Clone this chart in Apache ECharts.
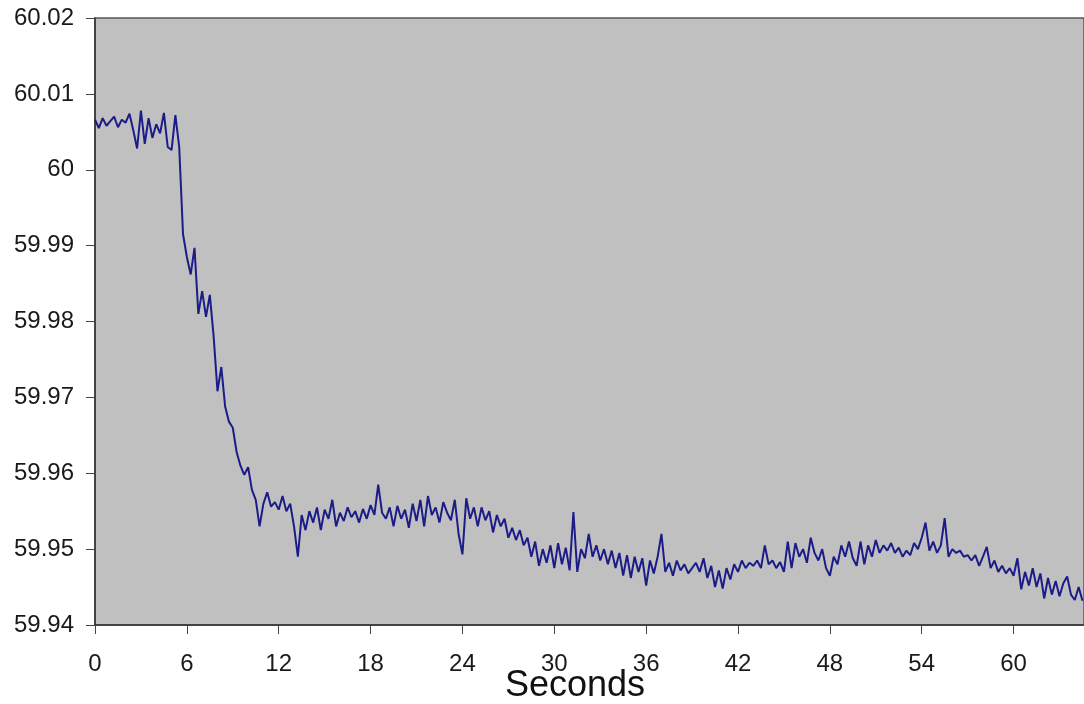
<!DOCTYPE html>
<html>
<head>
<meta charset="utf-8">
<script src="https://cdn.jsdelivr.net/npm/echarts@6/dist/echarts.min.js"></script>
<style>
  html, body { margin: 0; padding: 0; background: #fff; }
  #chart { width: 1084px; height: 704px; }
</style>
</head>
<body>
<div id="chart"></div>
<script>
// sampling period of the trace, seconds
const sampleStep = 0.25

// frequency readings (Hz), one row = 2 seconds
const frequency = [
  60.0066, 60.0055, 60.0068, 60.0058, 60.0064, 60.0070, 60.0056, 60.0066, // 0
  60.0062, 60.0074, 60.0052, 60.0028, 60.0078, 60.0034, 60.0068, 60.0042, // 2
  60.0060, 60.0048, 60.0075, 60.0030, 60.0026, 60.0072, 60.0030, 59.9915, // 4
  59.9885, 59.9862, 59.9897, 59.9810, 59.9840, 59.9806, 59.9835, 59.9780, // 6
  59.9708, 59.9740, 59.9688, 59.9668, 59.9660, 59.9628, 59.9610, 59.9598, // 8
  59.9608, 59.9578, 59.9565, 59.9530, 59.9560, 59.9575, 59.9556, 59.9562, // 10
  59.9552, 59.9570, 59.9550, 59.9560, 59.9530, 59.9490, 59.9545, 59.9525, // 12
  59.9550, 59.9535, 59.9555, 59.9525, 59.9552, 59.9540, 59.9565, 59.9530, // 14
  59.9548, 59.9537, 59.9555, 59.9542, 59.9550, 59.9535, 59.9553, 59.9540, // 16
  59.9558, 59.9545, 59.9585, 59.9548, 59.9540, 59.9555, 59.9530, 59.9557, // 18
  59.9540, 59.9552, 59.9528, 59.9560, 59.9537, 59.9565, 59.9530, 59.9570, // 20
  59.9545, 59.9555, 59.9535, 59.9562, 59.9548, 59.9538, 59.9565, 59.9520, // 22
  59.9493, 59.9567, 59.9540, 59.9555, 59.9530, 59.9555, 59.9538, 59.9550, // 24
  59.9522, 59.9545, 59.9530, 59.9540, 59.9515, 59.9528, 59.9512, 59.9525, // 26
  59.9505, 59.9515, 59.9490, 59.9510, 59.9478, 59.9500, 59.9482, 59.9505, // 28
  59.9475, 59.9508, 59.9480, 59.9502, 59.9472, 59.9549, 59.9470, 59.9500, // 30
  59.9488, 59.9520, 59.9490, 59.9505, 59.9485, 59.9500, 59.9480, 59.9498, // 32
  59.9475, 59.9495, 59.9465, 59.9492, 59.9462, 59.9490, 59.9470, 59.9488, // 34
  59.9452, 59.9485, 59.9468, 59.9490, 59.9520, 59.9470, 59.9482, 59.9465, // 36
  59.9485, 59.9472, 59.9480, 59.9468, 59.9475, 59.9482, 59.9470, 59.9488, // 38
  59.9462, 59.9478, 59.9450, 59.9472, 59.9448, 59.9475, 59.9460, 59.9480, // 40
  59.9470, 59.9485, 59.9475, 59.9482, 59.9478, 59.9485, 59.9475, 59.9505, // 42
  59.9480, 59.9485, 59.9475, 59.9483, 59.9470, 59.9510, 59.9475, 59.9508, // 44
  59.9490, 59.9500, 59.9482, 59.9515, 59.9495, 59.9485, 59.9500, 59.9475, // 46
  59.9465, 59.9490, 59.9480, 59.9505, 59.9490, 59.9510, 59.9488, 59.9478, // 48
  59.9510, 59.9480, 59.9505, 59.9490, 59.9512, 59.9495, 59.9505, 59.9498, // 50
  59.9508, 59.9495, 59.9502, 59.9490, 59.9498, 59.9492, 59.9508, 59.9500, // 52
  59.9515, 59.9535, 59.9498, 59.9510, 59.9495, 59.9505, 59.9541, 59.9490, // 54
  59.9500, 59.9495, 59.9498, 59.9490, 59.9492, 59.9485, 59.9492, 59.9478, // 56
  59.9490, 59.9503, 59.9475, 59.9485, 59.9470, 59.9478, 59.9468, 59.9475, // 58
  59.9465, 59.9488, 59.9447, 59.9470, 59.9452, 59.9475, 59.9450, 59.9468, // 60
  59.9435, 59.9462, 59.9440, 59.9458, 59.9438, 59.9455, 59.9464, 59.9440, // 62
  59.9433, 59.9450, 59.9432                                                 // 64
]

const yMin = 59.94
const yMax = 60.02
const yStep = 0.01
const xMax = 64.6
const xStep = 6

const labelFont = 'Liberation Sans, Arial, sans-serif'

const chart = echarts.init(document.getElementById('chart'))

const seriesData = frequency.map(function (v, i) {
  return [i * sampleStep, v]
})

const option = {
  animation: false,
  grid: {
    left: 95,
    right: 0,
    top: 18,
    bottom: 79,
    show: true,
    backgroundColor: '#c0c0c0',
    borderColor: '#555',
    borderWidth: 1.5
  },
  xAxis: {
    type: 'value',
    min: 0,
    max: xMax,
    interval: xStep,
    axisLine: { show: true, lineStyle: { color: '#333', width: 1.5 } },
    axisTick: { show: true, inside: false, length: 9, lineStyle: { color: '#444' } },
    axisLabel: {
      margin: 27,
      showMaxLabel: false,
      color: '#1a1a1a',
      fontSize: 24,
      fontFamily: labelFont
    },
    splitLine: { show: false }
  },
  yAxis: {
    type: 'value',
    min: yMin,
    max: yMax,
    interval: yStep,
    axisLine: { show: true, lineStyle: { color: '#333', width: 1.5 } },
    axisTick: { show: true, inside: false, length: 9, lineStyle: { color: '#444' } },
    axisLabel: {
      margin: 21,
      color: '#1a1a1a',
      fontSize: 24,
      fontFamily: labelFont,
      formatter: function (v) {
        return parseFloat(v.toFixed(2)).toString()
      }
    },
    splitLine: { show: false }
  },
  graphic: [{
    type: 'text',
    left: 505,
    top: 668,
    style: {
      text: 'Seconds',
      fill: '#111',
      fontSize: 36,
      fontFamily: labelFont
    }
  }],
  series: [{
    type: 'line',
    data: seriesData,
    showSymbol: false,
    lineStyle: { color: '#1c1c88', width: 2 },
    itemStyle: { color: '#1c1c88' }
  }]
}

chart.setOption(option)
</script>
</body>
</html>
